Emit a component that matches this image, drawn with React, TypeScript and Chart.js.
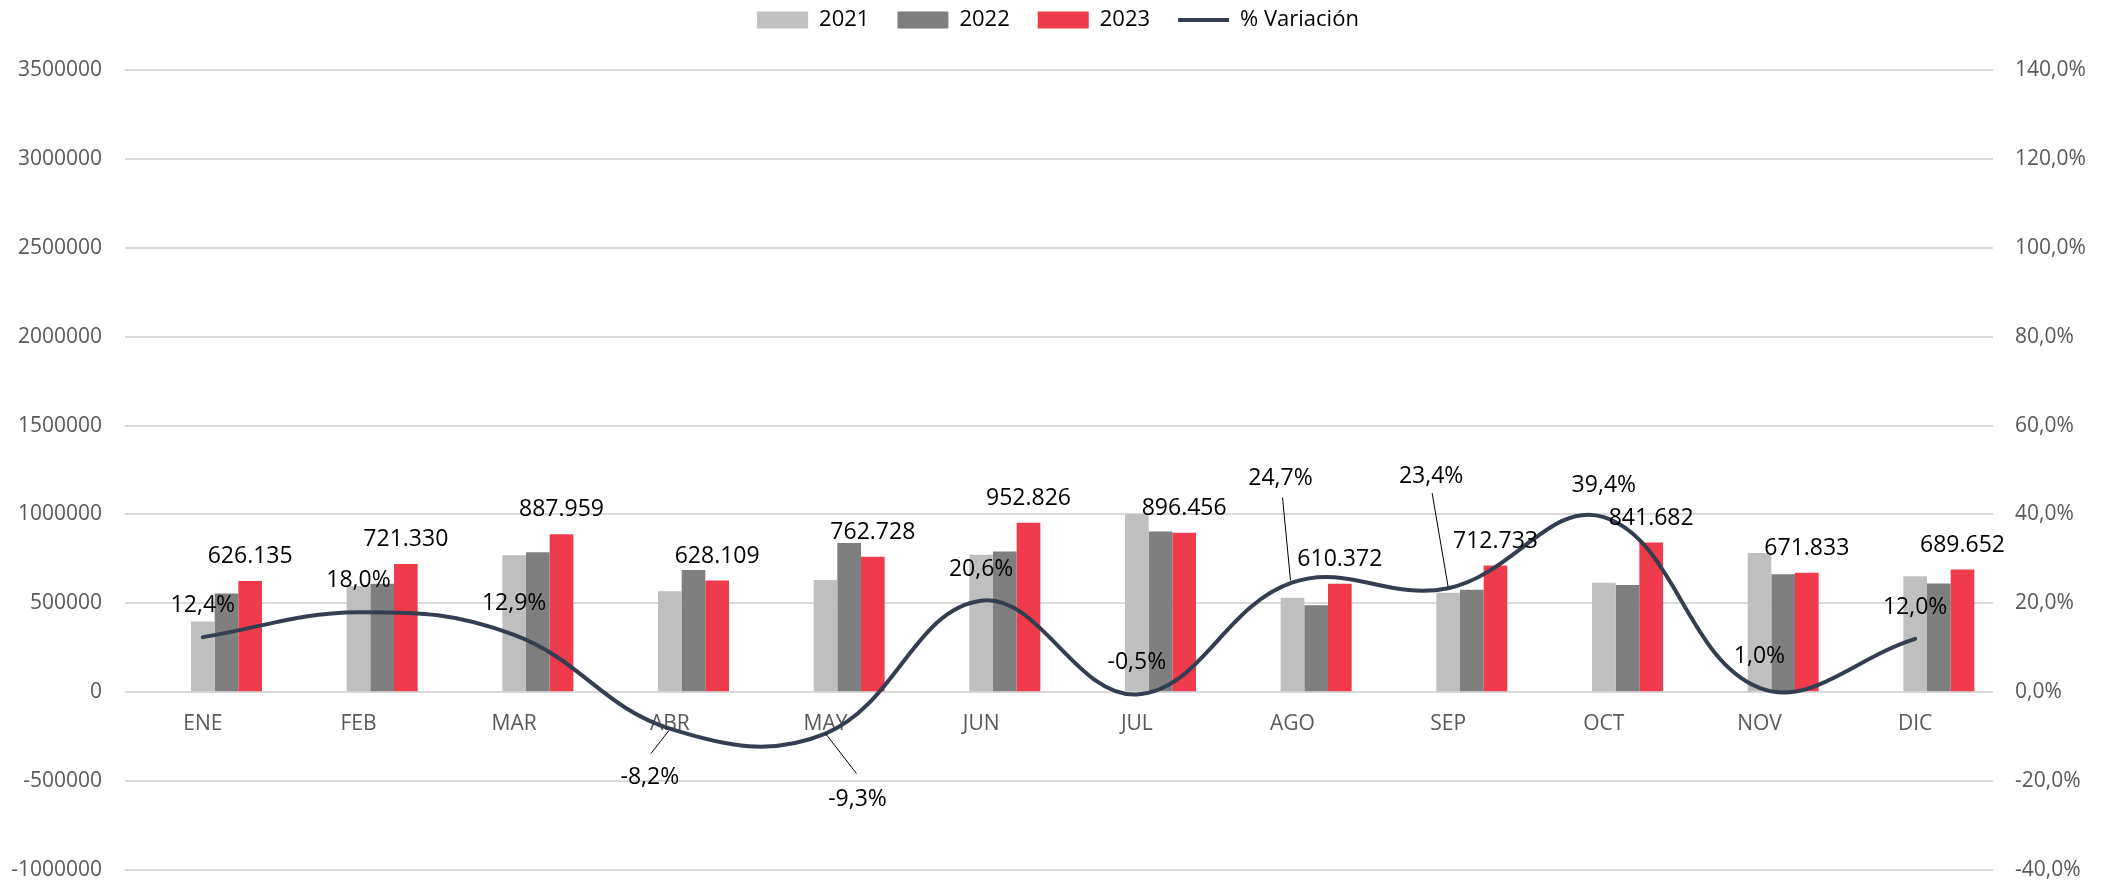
import React, { useEffect, useRef } from 'react';
import { Chart, registerables } from 'chart.js';

Chart.register(...registerables);

const MONTHS = ['ENE', 'FEB', 'MAR', 'ABR', 'MAY', 'JUN', 'JUL', 'AGO', 'SEP', 'OCT', 'NOV', 'DIC'];
const SALES_2021 = [398000, 598000, 771000, 568000, 631000, 773000, 1003000, 531000, 560000, 616000, 783000, 653000];
const SALES_2022 = [556000, 610000, 788000, 687000, 840000, 792000, 904000, 489000, 577000, 603000, 663000, 612000];
const SALES_2023 = [626135, 721330, 887959, 628109, 762728, 952826, 896456, 610372, 712733, 841682, 671833, 689652];
const VARIATION = [12.4, 18.0, 12.9, -8.2, -9.3, 20.6, -0.5, 24.7, 23.4, 39.4, 1.0, 12.0];
const EMPTY: (number | null)[] = MONTHS.map(() => null);

const LEFT_MIN = -1000000;
const LEFT_MAX = 3500000;
const LEFT_STEP = 500000;
const RIGHT_MIN = -40;
const RIGHT_MAX = 140;
const RIGHT_STEP = 20;

const FONT = "'Open Sans', 'DejaVu Sans', sans-serif";
const C2021 = '#BFBFBF';
const C2022 = '#7F7F7F';
const C2023 = '#EF3B4C';
const CLINE = '#333F50';

type LabelPos = { dx: number; dy: number; leader?: [number, number, number, number] };
const DEF: LabelPos = { dx: 0, dy: -25 };
const PCT_LABEL_POS: LabelPos[] = [
  DEF, DEF, DEF,
  { dx: -20, dy: 55, leader: [-19, 25, -1, 2] },
  { dx: 32, dy: 72, leader: [31, 40, 0, 0] },
  DEF, DEF,
  { dx: -12, dy: -97, leader: [-10, -85, -2, -2] },
  { dx: -17, dy: -105, leader: [-16, -95, 0, -1] },
  DEF, DEF, DEF,
];

const fmtThousands = (v: number) => String(v).replace(/\B(?=(\d{3})+(?!\d))/g, '.');
const fmtPct = (v: number) => v.toFixed(1).replace('.', ',') + '%';

const labelsPlugin = {
  id: 'customLabels',
  beforeDatasetsDraw(chart: any) {
    const ctx = chart.ctx;
    const x = chart.scales.x;
    const zeroY = chart.scales.y.getPixelForValue(0);
    ctx.save();
    ctx.font = `21px ${FONT}`;
    ctx.fillStyle = '#595959';
    ctx.textAlign = 'center';
    ctx.textBaseline = 'alphabetic';
    MONTHS.forEach((m, i) => ctx.fillText(m, x.getPixelForValue(i), zeroY + 38));
    ctx.restore();
  },
  afterDatasetsDraw(chart: any) {
    const ctx = chart.ctx;
    ctx.save();
    ctx.font = `23px ${FONT}`;
    ctx.fillStyle = '#000';
    ctx.textAlign = 'center';
    ctx.textBaseline = 'alphabetic';
    const ds = chart.data.datasets;
    const idx2023 = ds.findIndex((d: any) => d.label === '2023');
    const barMeta = chart.getDatasetMeta(idx2023);
    barMeta.data.forEach((el: any, i: number) => {
      ctx.fillText(fmtThousands(SALES_2023[i]), el.x, el.y - 18);
    });
    const idxLine = ds.findIndex((d: any) => d.type === 'line');
    const lineMeta = chart.getDatasetMeta(idxLine);
    lineMeta.data.forEach((pt: any, i: number) => {
      const p = PCT_LABEL_POS[i];
      if (p.leader) {
        ctx.beginPath();
        ctx.strokeStyle = '#000';
        ctx.lineWidth = 1;
        ctx.moveTo(pt.x + p.leader[0], pt.y + p.leader[1]);
        ctx.lineTo(pt.x + p.leader[2], pt.y + p.leader[3]);
        ctx.stroke();
      }
      ctx.fillText(fmtPct(VARIATION[i]), pt.x + p.dx, pt.y + p.dy);
    });
    ctx.restore();
  },
};

export default function App() {
  const ref = useRef<HTMLCanvasElement>(null);

  useEffect(() => {
    Chart.defaults.font.family = FONT;
    const chart = new Chart(ref.current as HTMLCanvasElement, {
      type: 'bar',
      data: {
        labels: MONTHS,
        datasets: [
          {
            type: 'line',
            label: '% Variación',
            data: VARIATION,
            yAxisID: 'y1',
            borderColor: CLINE,
            backgroundColor: CLINE,
            borderWidth: 4,
            pointRadius: 0,
            tension: 0.4,
            fill: false,
            order: 0,
            borderCapStyle: 'round',
          } as any,
          { label: '', data: EMPTY, yAxisID: 'y', order: 1 } as any,
          { label: ' ', data: EMPTY, yAxisID: 'y', order: 1 } as any,
          { label: '2021', data: SALES_2021, backgroundColor: C2021, yAxisID: 'y', order: 1 },
          { label: '2022', data: SALES_2022, backgroundColor: C2022, yAxisID: 'y', order: 1 },
          { label: '2023', data: SALES_2023, backgroundColor: C2023, yAxisID: 'y', order: 1 },
        ],
      },
      options: {
        animation: false,
        responsive: true,
        maintainAspectRatio: false,
        datasets: { bar: { categoryPercentage: 0.76, barPercentage: 1 } } as any,
        layout: { padding: { top: -19, left: 0, right: 0, bottom: 0 } },
        scales: {
          x: { display: false, offset: true, afterFit: (s: any) => { s.height = 0; } },
          y: {
            position: 'left',
            min: LEFT_MIN,
            max: LEFT_MAX,
            ticks: {
              stepSize: LEFT_STEP,
              color: '#595959',
              font: { size: 21 },
              padding: 23,
              callback: (v: any) => String(v),
            },
            grid: { color: '#D9D9D9', lineWidth: 2, drawTicks: false },
            border: { display: false },
            afterFit: (s: any) => { s.width = 125; s.paddingTop = 13; s.paddingBottom = 13; },
          },
          y1: {
            position: 'right',
            min: RIGHT_MIN,
            max: RIGHT_MAX,
            ticks: {
              stepSize: RIGHT_STEP,
              color: '#595959',
              font: { size: 21 },
              padding: 22,
              callback: (v: any) => fmtPct(Number(v)),
            },
            grid: { display: false, drawTicks: false },
            border: { display: false },
            afterFit: (s: any) => { s.width = 123; s.paddingTop = 13; s.paddingBottom = 13; },
          },
        },
        plugins: {
          tooltip: { enabled: false },
          title: { display: true, text: '', weight: 500, padding: 0, font: { size: 10, lineHeight: '29px' } } as any,
          legend: {
            position: 'top',
            labels: {
              usePointStyle: true,
              pointStyleWidth: 51,
              boxHeight: 17,
              padding: 28,
              color: '#000',
              font: { size: 22 },
              generateLabels: (chart: any) => {
                const ds = chart.data.datasets;
                const order = ['2021', '2022', '2023', '% Variación'];
                return order.map((name) => {
                  const i = ds.findIndex((d: any) => d.label === name);
                  const isLine = ds[i].type === 'line';
                  return {
                    text: name,
                    fillStyle: isLine ? CLINE : ds[i].backgroundColor,
                    strokeStyle: isLine ? CLINE : ds[i].backgroundColor,
                    lineWidth: isLine ? 4 : 0,
                    pointStyle: isLine ? 'line' : 'rect',
                    hidden: false,
                    datasetIndex: i,
                    fontColor: '#000',
                  };
                });
              },
            },
          },
        },
      },
      plugins: [labelsPlugin],
    } as any);
    return () => chart.destroy();
  }, []);

  return (
    <div style={{ position: 'fixed', left: 0, top: 0, width: 2116, height: 883, background: '#fff' }}>
      <canvas ref={ref} />
    </div>
  );
}
